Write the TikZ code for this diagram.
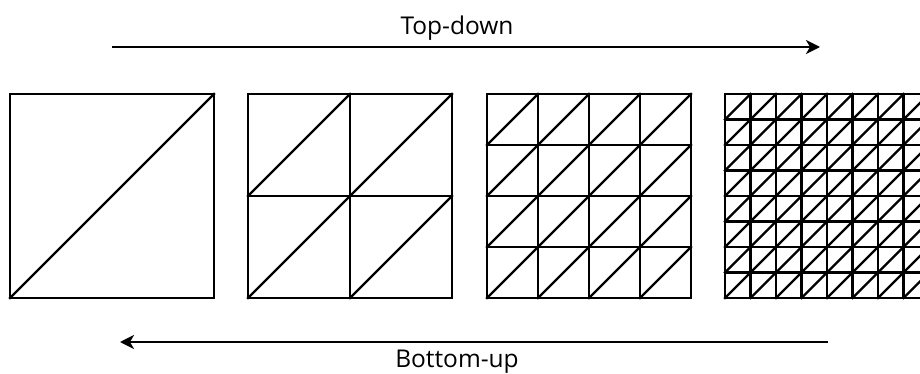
\documentclass[tikz,border=0pt]{standalone}
\usepackage{fontspec}
\setmainfont{Open Sans}
\usetikzlibrary{arrows.meta}
\begin{document}
\begin{tikzpicture}[x=1pt,y=-1pt,
  meshline/.style={line width=2.4pt,line cap=rect},
  flowarrow/.style={line width=2.4pt,-{Stealth[length=14pt,width=14pt,inset=4pt]}},
  lbl/.style={inner sep=0pt,font=\fontsize{24.5}{28}\selectfont}]
\useasboundingbox (0,0) rectangle (920,374);
\begin{scope}
\clip (0,0) rectangle (920,374);
\foreach \x/\n in {10/1,248/2,487/4,725/8}{
  \pgfmathsetmacro{\c}{204/\n}
  \draw[meshline] (\x,94) rectangle ++(204,204);
  \foreach \i in {1,...,\n}{
    \ifnum\i<\n
      \draw[meshline] (\x+\i*\c,94) -- ++(0,204);
      \draw[meshline] (\x,94+\i*\c) -- ++(204,0);
    \fi
    \foreach \j in {1,...,\n}{
      \draw[meshline] (\x+\i*\c-\c,94+\j*\c) -- ++(\c,-\c);
    }
  }
}
\end{scope}
\coordinate (tdstart) at (112,47);
\coordinate (tdend) at (820,47);
\coordinate (bustart) at (828,342);
\coordinate (buend) at (120,342);
\draw[flowarrow] (tdstart) -- (tdend);
\draw[flowarrow] (bustart) -- (buend);
\node[lbl] (td) at (457,28) {Top-down};
\node[lbl] (bu) at (457,362) {Bottom-up};
\end{tikzpicture}
\end{document}
